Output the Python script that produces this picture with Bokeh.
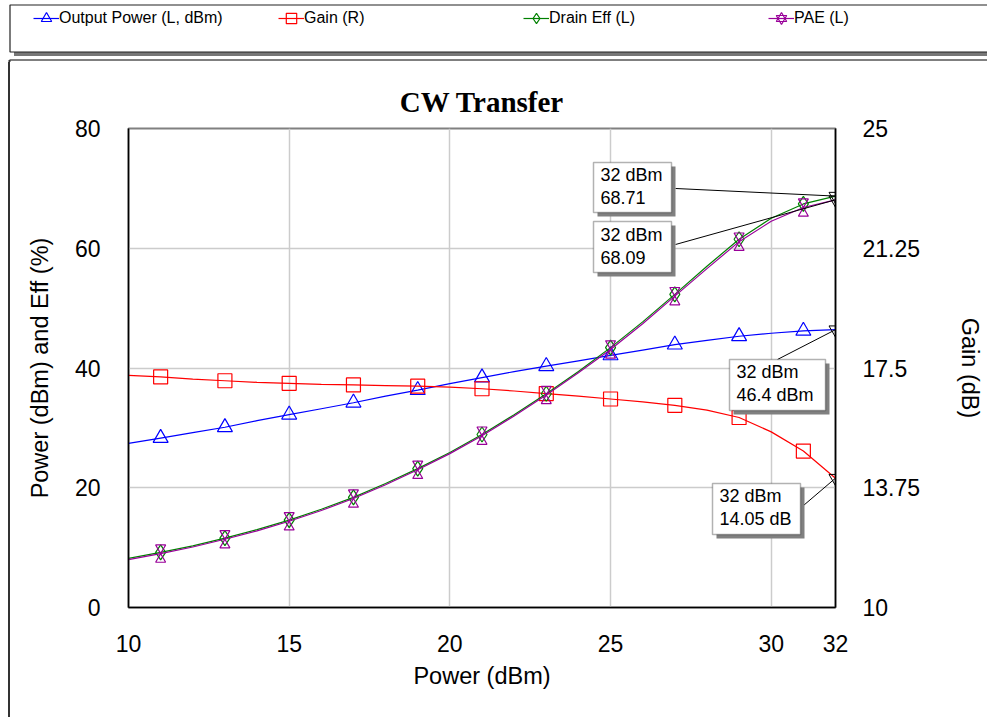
import numpy as np
from bokeh.plotting import figure
from bokeh.layouts import column, row
from bokeh.models import (Range1d, LinearAxis, FixedTicker, Legend, LegendItem,
                          Label, Arrow, BoxAnnotation, Div)
from bokeh.embed import file_html
from bokeh.resources import INLINE

# ---------------- data ----------------
pin = [10, 11, 12, 13, 14, 15, 16, 17, 18, 19, 20, 21, 22, 23, 24, 25, 26, 27, 28, 29, 30, 31, 32]
pout = [27.4, 28.3, 29.2, 30.1, 31.2, 32.2, 33.2, 34.2, 35.3, 36.3, 37.4, 38.4, 39.4, 40.3,
        41.2, 42.1, 43.0, 43.9, 44.6, 45.3, 45.8, 46.2, 46.4]
gain = [17.27, 17.22, 17.15, 17.10, 17.05, 17.02, 16.99, 16.97, 16.95, 16.93, 16.90, 16.85,
        16.78, 16.70, 16.62, 16.53, 16.44, 16.33, 16.18, 15.95, 15.50, 14.90, 14.05]
drain_eff = [8.2, 9.2, 10.3, 11.6, 13.0, 14.6, 16.4, 18.4, 20.7, 23.2, 25.9, 28.9, 32.2, 35.7,
             39.4, 43.4, 47.7, 52.3, 57.0, 61.5, 65.0, 67.4, 68.71]
pae = [8.0, 9.0, 10.1, 11.4, 12.8, 14.4, 16.2, 18.2, 20.5, 23.0, 25.7, 28.7, 32.0, 35.5,
       39.2, 43.1, 47.4, 52.0, 56.6, 61.1, 64.5, 66.8, 68.09]
marker_pin = [11, 13, 15, 17, 19, 21, 23, 25, 27, 29, 31]

x_ticks = [10, 15, 20, 25, 30, 32]
left_ticks = [0, 20, 40, 60, 80]
right_ticks = [10, 13.75, 17.5, 21.25, 25]
right_tick_labels = ["10", "13.75", "17.5", "21.25", "25"]

series_names = ["Output Power (L, dBm)", "Gain (R)", "Drain Eff (L)", "PAE (L)"]
title_text = "CW Transfer"
x_label = "Power (dBm)"
yl_label = "Power (dBm) and Eff (%)"
yr_label = "Gain (dB)"

# ---------------- layout constants ----------------
TOTAL_W, TOTAL_H = 987, 717
TOP_H = 62          # legend strip
SIDE_W = 10         # strip holding the panel's left border
W, H = TOTAL_W - SIDE_W, TOTAL_H - TOP_H
BL, BR, BT, BB = 118, 152, 66, 110
FW, FH = W - BL - BR, H - BT - BB
XMIN, XMAX, YMIN, YMAX, GMIN, GMAX = 10, 32, 0, 80, 10, 25
px_x = FW / (XMAX - XMIN)
px_y = FH / (YMAX - YMIN)
px_g = FH / (GMAX - GMIN)

BLUE, RED, GREEN, PURPLE = "#0000ff", "#ff0000", "#008000", "#990099"
FONT = "Liberation Sans"
LW = 1.2
HS = 10  # size of each half of the PAE hourglass

x = np.array(pin, dtype=float)
mask = np.isin(x, marker_pin)
pout_a, gain_a, de_a, pae_a = map(np.array, (pout, gain, drain_eff, pae))

# ================= main chart =================
p = figure(width=W, height=H, output_backend="svg", toolbar_location=None,
           x_range=Range1d(XMIN, XMAX), y_range=Range1d(YMIN, YMAX),
           min_border_left=BL, min_border_right=BR, min_border_top=BT, min_border_bottom=BB,
           title=title_text, background_fill_color="white", border_fill_color="white")
p.extra_y_ranges = {"gain": Range1d(GMIN, GMAX)}

p.title.text_font = "Liberation Serif"
p.title.text_font_size = "29px"
p.title.text_font_style = "bold"
p.title.text_color = "black"
p.title.align = "center"
p.title.standoff = 22

p.outline_line_color = "#808080"
p.outline_line_width = 2

def style_axis(ax, label, standoff, label_standoff):
    ax.axis_label = label
    ax.axis_label_text_font = FONT
    ax.axis_label_text_font_size = "23.5px"
    ax.axis_label_text_font_style = "normal"
    ax.axis_label_text_color = "black"
    ax.axis_label_standoff = label_standoff
    ax.major_label_text_font = FONT
    ax.major_label_text_font_size = "23px"
    ax.major_label_text_color = "black"
    ax.major_label_standoff = standoff
    ax.major_tick_in = 0
    ax.major_tick_out = 0
    ax.minor_tick_in = 0
    ax.minor_tick_out = 0
    ax.axis_line_color = "black"
    ax.axis_line_width = 1.5

xa = p.xaxis[0]
xa.ticker = FixedTicker(ticks=x_ticks)
style_axis(xa, x_label, 27, 8)
ya = p.yaxis[0]
ya.ticker = FixedTicker(ticks=left_ticks)
style_axis(ya, yl_label, 28, 19)

ra = LinearAxis(y_range_name="gain", ticker=FixedTicker(ticks=right_ticks),
                major_label_overrides=dict(zip(right_ticks, right_tick_labels)))
style_axis(ra, yr_label, 27, 34)
p.add_layout(ra, "right")

p.xgrid.ticker = FixedTicker(ticks=x_ticks)
p.ygrid.ticker = FixedTicker(ticks=left_ticks)
for g in (p.xgrid, p.ygrid):
    g.grid_line_color = "#cccccc"
    g.grid_line_width = 1.5

p.line(x, pout_a, line_color=BLUE, line_width=LW)
p.scatter(x[mask], pout_a[mask], marker="triangle", size=15,
          fill_color=None, line_color=BLUE, line_width=LW)
p.line(x, gain_a, line_color=RED, line_width=LW, y_range_name="gain")
p.scatter(x[mask], gain_a[mask], marker="square", size=14,
          fill_color=None, line_color=RED, line_width=LW, y_range_name="gain")
p.line(x, de_a, line_color=GREEN, line_width=LW)
p.scatter(x[mask], de_a[mask], marker="diamond", size=15,
          fill_color=None, line_color=GREEN, line_width=LW)
p.line(x, pae_a, line_color=PURPLE, line_width=LW)
hg = (HS / 2) * np.sqrt(3) * 2 / 3 / px_y   # hourglass: two triangles meeting at the point
p.scatter(x[mask], pae_a[mask] + hg, marker="inverted_triangle", size=HS,
          fill_color=None, line_color=PURPLE, line_width=LW)
p.scatter(x[mask], pae_a[mask] - hg, marker="triangle", size=HS,
          fill_color=None, line_color=PURPLE, line_width=LW)

# end-point markers (black inverted triangles at the last input power)
p.scatter([x[-1]] * 3, [de_a[-1], pae_a[-1], pout_a[-1]], marker="inverted_triangle", size=13,
          fill_color=None, line_color="black", line_width=1)
p.scatter([x[-1]], [gain_a[-1]], marker="inverted_triangle", size=13,
          fill_color=None, line_color="black", line_width=1, y_range_name="gain")

# ---------------- callouts at the last point ----------------
g_left = (gain_a[-1] - GMIN) * px_g / px_y + YMIN   # gain end point in left-axis units
# (value, range, value in left units, px/unit, text, box (dx, dy, w, h) px, leader end (dx, dy) px)
callouts = [
    (de_a[-1], "default", de_a[-1], px_y, f"{pin[-1]} dBm\n{drain_eff[-1]:.2f}",
     (-242, -33.6, 78, 50), (-160, -7.6)),
    (pae_a[-1], "default", pae_a[-1], px_y, f"{pin[-1]} dBm\n{pae[-1]:.2f}",
     (-242, 21.7, 78, 51), (-160, 44.7)),
    (pout_a[-1], "default", pout_a[-1], px_y, f"{pin[-1]} dBm\n{pout[-1]:.1f} dBm",
     (-106, 29.8, 96, 51), (-58, 29.8)),
    (gain_a[-1], "gain", g_left, px_g, f"{pin[-1]} dBm\n{gain[-1]:.2f} dB",
     (-123, 5.3, 88, 51), (-32, 27.3)),
]
for val, rn, vl, ppu, txt, box, (lx, ly) in callouts:
    p.add_layout(Arrow(end=None, x_start=x[-1], y_start=val, x_end=x[-1] + lx / px_x,
                       y_end=val - ly / ppu, line_color="black", line_width=1, y_range_name=rn))
for val, rn, vl, ppu, txt, (bx, by, bw, bh), lead in callouts:
    for off, kw in ((4, dict(fill_color="#808080", fill_alpha=1, line_alpha=0)),
                    (0, dict(fill_color="white", fill_alpha=1, line_color="black",
                             line_width=1.5))):
        p.add_layout(BoxAnnotation(left=x[-1] + (bx + off) / px_x,
                                   right=x[-1] + (bx + bw + off) / px_x,
                                   top=vl - (by + off) / px_y,
                                   bottom=vl - (by + bh + off) / px_y, **kw))
    p.add_layout(Label(x=x[-1], y=val, x_offset=bx + 7, y_offset=-(by + 3), text=txt,
                       text_font=FONT, text_font_size="18px", text_color="black",
                       text_align="left", text_baseline="top", text_line_height=1.15,
                       y_range_name=rn))

# ================= legend strip =================
top = figure(width=TOTAL_W, height=TOP_H, output_backend="svg", toolbar_location=None,
             x_range=Range1d(0, TOTAL_W), y_range=Range1d(TOP_H, 0),
             x_axis_type=None, y_axis_type=None, min_border=0,
             min_border_left=0, min_border_right=0, min_border_top=0, min_border_bottom=0,
             background_fill_color="white", border_fill_color="white")
top.outline_line_color = None
top.quad(left=[13.5], right=[TOTAL_W + 20], top=[8], bottom=[55.5],
         fill_color="#777777", line_color=None)
top.quad(left=[9.5], right=[TOTAL_W + 10], top=[4.5], bottom=[51.5],
         fill_color="white", line_color="#222222", line_width=1.2)
top.segment(x0=[9], y0=[59.5], x1=[TOTAL_W + 10], y1=[59.5], line_color="black", line_width=1)
top.segment(x0=[9], y0=[59.5], x1=[9], y1=[TOP_H + 2], line_color="#333333", line_width=2)

# legend proxies (hidden) carrying the series styles
def proxy_line(c):
    return top.line(pin[:2], pout[:2], line_color=c, line_width=LW, visible=False)

def proxy_marker(c, m):
    return top.scatter(pin[:1], pout[:1], marker=m, fill_color=None, line_color=c,
                       line_width=LW, visible=False)

items = [
    LegendItem(label=series_names[0], renderers=[proxy_line(BLUE), proxy_marker(BLUE, "triangle")]),
    LegendItem(label=series_names[1], renderers=[proxy_line(RED), proxy_marker(RED, "square")]),
    LegendItem(label=series_names[2], renderers=[proxy_line(GREEN), proxy_marker(GREEN, "diamond")]),
    LegendItem(label=series_names[3], renderers=[proxy_line(PURPLE),
                                                proxy_marker(PURPLE, "inverted_triangle"),
                                                proxy_marker(PURPLE, "triangle")]),
]
legend = Legend(items=items, orientation="horizontal", location=(33, 29),
                padding=0, spacing=0, margin=0, border_line_alpha=0, background_fill_alpha=0,
                glyph_width=26, glyph_height=30, label_standoff=0, label_width=219,
                label_height=30, label_text_font=FONT, label_text_font_size="16px",
                label_text_color="black", inactive_fill_alpha=0)
top.add_layout(legend)

# ================= left border strip =================
side = Div(text="", width=SIDE_W, height=H, margin=0,
           styles={"border-right": "2px solid #333333", "box-sizing": "border-box"})

layout = column(top, row(side, p, spacing=0), spacing=0)
open("out.html", "w").write(file_html(layout, INLINE))
